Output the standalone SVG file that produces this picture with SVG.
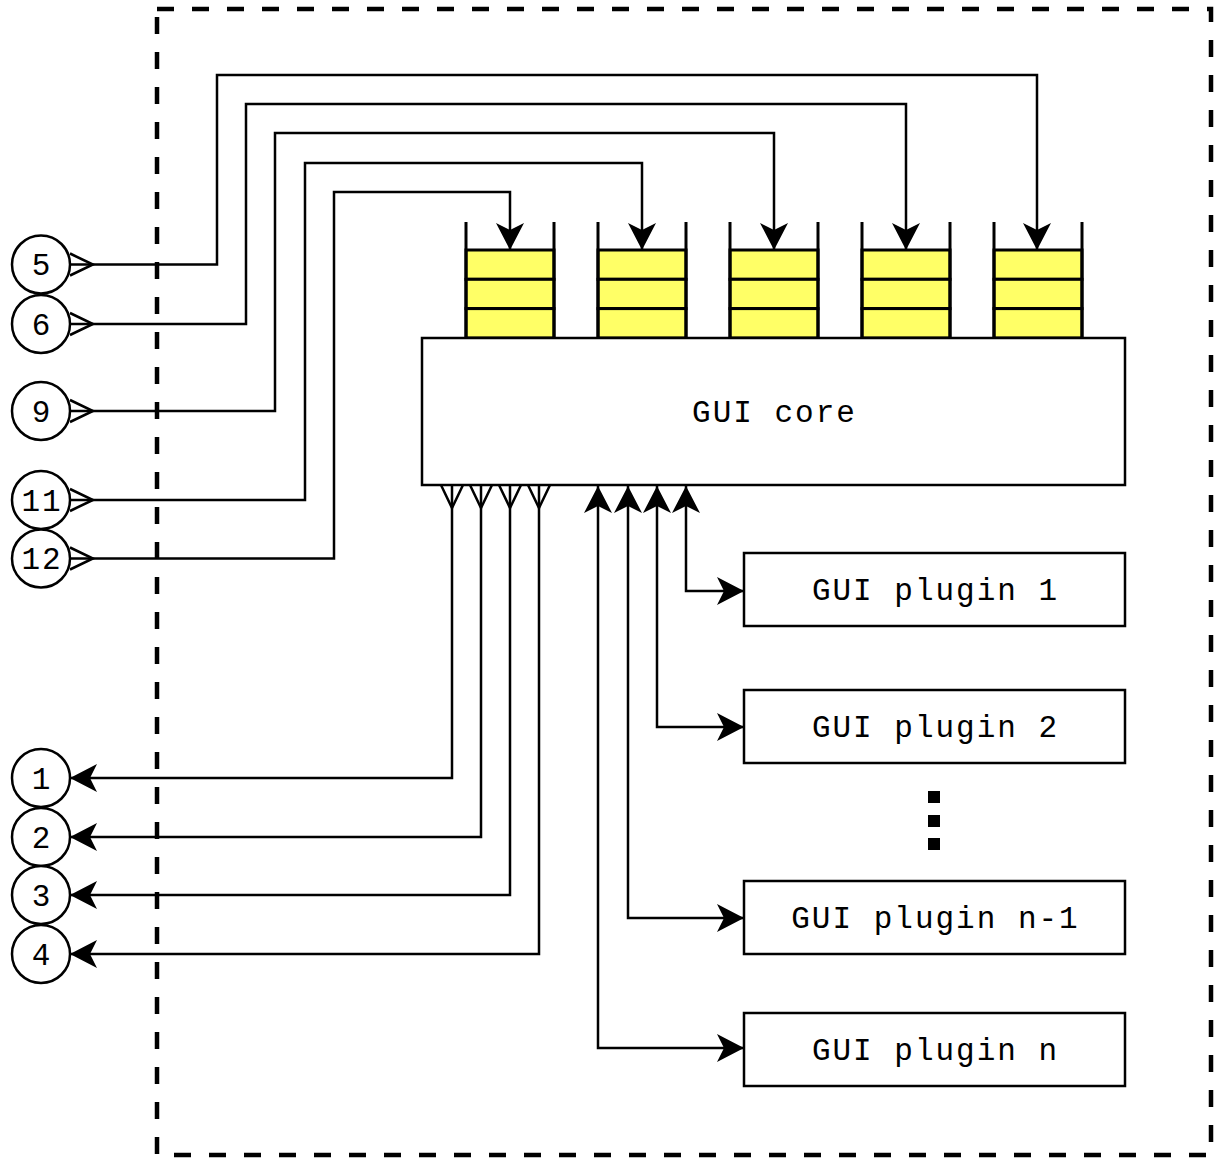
<svg xmlns="http://www.w3.org/2000/svg" width="1222" height="1159" viewBox="0 0 1222 1159">
<style>
.bx{fill:#fff;stroke:#000;stroke-width:2.5}
.q{fill:#FFFF66;stroke:#000;stroke-width:3}
.wall{stroke:#000;stroke-width:3;fill:none}
.c{fill:#fff;stroke:#000;stroke-width:2.5}
.t{font-family:"Liberation Mono","Courier New",monospace;font-size:31px;letter-spacing:2px;fill:#000;text-anchor:middle}
.ln{fill:none;stroke:#000;stroke-width:2.5}
</style>
<defs>
<marker id="arr" markerUnits="userSpaceOnUse" markerWidth="32" markerHeight="32" viewBox="-30 -16 32 32" refX="0" refY="0" orient="auto-start-reverse">
<path d="M0,0 L-27,-14 L-20,0 L-27,14 Z" fill="#000"/>
</marker>
<marker id="cf" markerUnits="userSpaceOnUse" markerWidth="30" markerHeight="30" viewBox="-2 -15 30 30" refX="0" refY="0" orient="auto">
<path d="M0,-11 L23,0 L0,11" fill="none" stroke="#000" stroke-width="2.5"/>
</marker>
</defs>
<g id="boundary">
<path d="M157,9 H1211 V1155 H157 Z" fill="none" stroke="#000" stroke-width="4.5" stroke-dasharray="17 18"/>
</g>
<g id="queue1">
<rect class="q" x="466" y="250" width="88" height="29.3"/><rect class="q" x="466" y="279.3" width="88" height="29.3"/><rect class="q" x="466" y="308.6" width="88" height="29.4"/>
<path class="wall" d="M466,222 V338 M554,222 V338"/>
</g>
<g id="queue2">
<rect class="q" x="598" y="250" width="88" height="29.3"/><rect class="q" x="598" y="279.3" width="88" height="29.3"/><rect class="q" x="598" y="308.6" width="88" height="29.4"/>
<path class="wall" d="M598,222 V338 M686,222 V338"/>
</g>
<g id="queue3">
<rect class="q" x="730" y="250" width="88" height="29.3"/><rect class="q" x="730" y="279.3" width="88" height="29.3"/><rect class="q" x="730" y="308.6" width="88" height="29.4"/>
<path class="wall" d="M730,222 V338 M818,222 V338"/>
</g>
<g id="queue4">
<rect class="q" x="862" y="250" width="88" height="29.3"/><rect class="q" x="862" y="279.3" width="88" height="29.3"/><rect class="q" x="862" y="308.6" width="88" height="29.4"/>
<path class="wall" d="M862,222 V338 M950,222 V338"/>
</g>
<g id="queue5">
<rect class="q" x="994" y="250" width="88" height="29.3"/><rect class="q" x="994" y="279.3" width="88" height="29.3"/><rect class="q" x="994" y="308.6" width="88" height="29.4"/>
<path class="wall" d="M994,222 V338 M1082,222 V338"/>
</g>
<g id="gui-core">
<rect class="bx" x="422" y="338" width="703" height="147"/>
<text class="t" x="774.5" y="422">GUI core</text>
</g>
<g id="plugin1">
<rect class="bx" x="744" y="553" width="381" height="73"/>
<text class="t" x="935.5" y="600">GUI plugin 1</text>
</g>
<g id="plugin2">
<rect class="bx" x="744" y="690" width="381" height="73"/>
<text class="t" x="935.5" y="737">GUI plugin 2</text>
</g>
<g id="ellipsis">
<rect x="928" y="791" width="12" height="12" fill="#000"/>
<rect x="928" y="815" width="12" height="12" fill="#000"/>
<rect x="928" y="838" width="12" height="12" fill="#000"/>
</g>
<g id="plugin-n-1">
<rect class="bx" x="744" y="881" width="381" height="73"/>
<text class="t" x="935.5" y="928">GUI plugin n-1</text>
</g>
<g id="plugin-n">
<rect class="bx" x="744" y="1013" width="381" height="73"/>
<text class="t" x="935.5" y="1060">GUI plugin n</text>
</g>
<g id="connectors">
<path class="ln" d="M70,264.5 H217 V75 H1037 V250" marker-start="url(#cf)" marker-end="url(#arr)"/>
<path class="ln" d="M70,324 H246 V104 H906 V250" marker-start="url(#cf)" marker-end="url(#arr)"/>
<path class="ln" d="M70,411 H275 V133 H774 V250" marker-start="url(#cf)" marker-end="url(#arr)"/>
<path class="ln" d="M70,500 H305 V163 H642 V250" marker-start="url(#cf)" marker-end="url(#arr)"/>
<path class="ln" d="M70,558.5 H334 V192 H510 V250" marker-start="url(#cf)" marker-end="url(#arr)"/>
<path class="ln" d="M452,485 V778 H70" marker-start="url(#cf)" marker-end="url(#arr)"/>
<path class="ln" d="M481,485 V837 H70" marker-start="url(#cf)" marker-end="url(#arr)"/>
<path class="ln" d="M510,485 V895 H70" marker-start="url(#cf)" marker-end="url(#arr)"/>
<path class="ln" d="M539,485 V954 H70" marker-start="url(#cf)" marker-end="url(#arr)"/>
<path class="ln" d="M686,486 V591 H744" marker-start="url(#arr)" marker-end="url(#arr)"/>
<path class="ln" d="M657,486 V727 H744" marker-start="url(#arr)" marker-end="url(#arr)"/>
<path class="ln" d="M628,486 V918 H744" marker-start="url(#arr)" marker-end="url(#arr)"/>
<path class="ln" d="M598,486 V1048 H744" marker-start="url(#arr)" marker-end="url(#arr)"/>
</g>
<g id="port5"><circle class="c" cx="41" cy="264.5" r="29"/><text class="t" x="42" y="275">5</text></g>
<g id="port6"><circle class="c" cx="41" cy="324" r="29"/><text class="t" x="42" y="334.5">6</text></g>
<g id="port9"><circle class="c" cx="41" cy="411" r="29"/><text class="t" x="42" y="421.5">9</text></g>
<g id="port11"><circle class="c" cx="41" cy="500" r="29"/><text class="t" x="42" y="510.5">11</text></g>
<g id="port12"><circle class="c" cx="41" cy="558.5" r="29"/><text class="t" x="42" y="569">12</text></g>
<g id="port1"><circle class="c" cx="41" cy="778" r="29"/><text class="t" x="42" y="788.5">1</text></g>
<g id="port2"><circle class="c" cx="41" cy="837" r="29"/><text class="t" x="42" y="847.5">2</text></g>
<g id="port3"><circle class="c" cx="41" cy="895" r="29"/><text class="t" x="42" y="905.5">3</text></g>
<g id="port4"><circle class="c" cx="41" cy="954" r="29"/><text class="t" x="42" y="964.5">4</text></g>
</svg>
